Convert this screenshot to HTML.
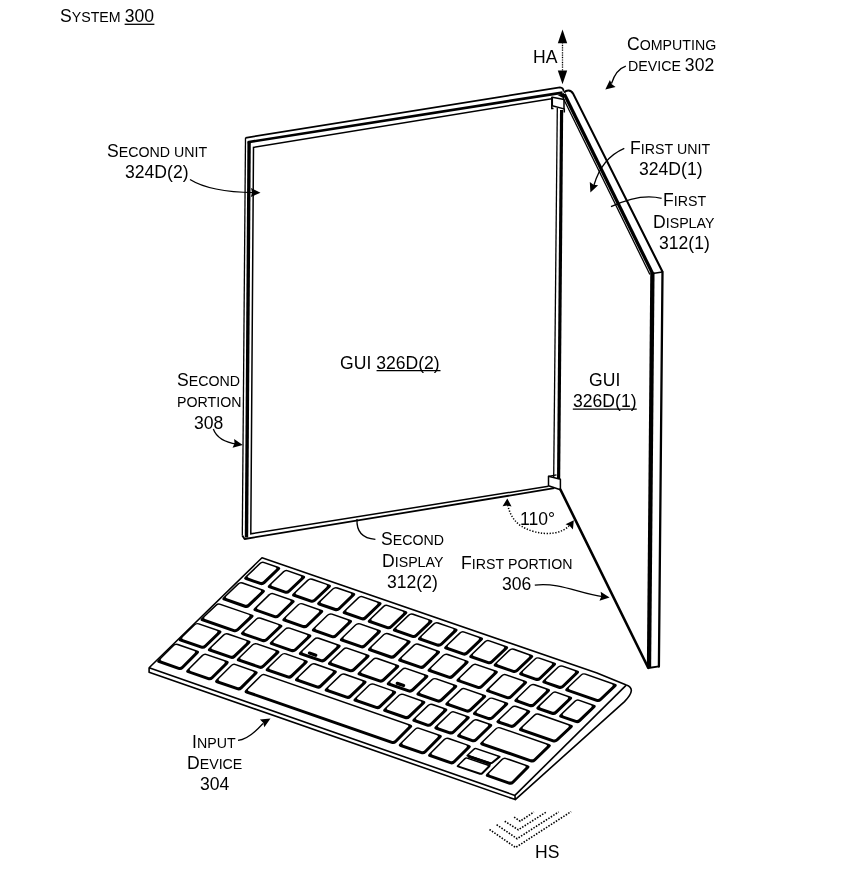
<!DOCTYPE html>
<html><head><meta charset="utf-8"><title>System 300</title>
<style>
html,body{margin:0;padding:0;background:#fff;}
#fig{position:relative;width:855px;height:883px;overflow:hidden;background:#fff;}
#fig svg{position:absolute;left:0;top:0;display:block;}
#labels{position:absolute;left:0;top:0;width:855px;height:883px;will-change:transform;}
.l{position:absolute;white-space:pre;color:#000;font-family:"Liberation Sans",sans-serif;font-size:17.33px;line-height:24px;height:24px;transform-origin:0 18.0px;transform:scale(1.015,1.1);}
.l span{display:inline-block;line-height:24px;}
.n{font-size:17.33px;}
.s,.w{font-size:14.0px;}
.w::first-letter{font-size:17.33px;}
</style></head><body>
<div id="fig">
<svg width="855" height="883" viewBox="0 0 855 883">
<rect width="855" height="883" fill="#fff"/>
<g id="device">
<path d="M242.3 535.4 L245.5 137.8" fill="none" stroke="#000" stroke-width="1.3"/>
<path d="M245.5 137.8 L559.9 87.4 Q563.4 87.6 563.7 91.5" fill="none" stroke="#000" stroke-width="1.7" stroke-linejoin="miter"/>
<path d="M246.5 537.5 L249.1 141.9" fill="none" stroke="#000" stroke-width="3.4"/>
<path d="M247.6 142.2 L562.5 92.6" fill="none" stroke="#000" stroke-width="2.6"/>
<path d="M548.5 486.2 L250.8 533.8 L253.5 147.4 L551.7 98.7" fill="none" stroke="#000" stroke-width="1.5"/>
<path d="M242.3 535.4 L244.6 539 L554.3 488.2" fill="none" stroke="#000" stroke-width="1.8" stroke-linejoin="round"/>
<path d="M557.3 108 L553.7 478" fill="none" stroke="#000" stroke-width="1.3"/>
<path d="M561.6 110 L558.6 479" fill="none" stroke="#000" stroke-width="3.2"/>
<path d="M552.3 97.3 L564 99.4 L564 108.9 L552.3 105.8 Z" fill="#fff" stroke="#000" stroke-width="1.5" stroke-linejoin="round"/>
<path d="M551.8 96.8 L551.8 108.5 L553.5 108.5 M564.3 108.5 L564.3 112.5" fill="none" stroke="#000" stroke-width="1.5"/>
<path d="M557.5 95 L564 98.5 L564 93 Z" fill="#000"/>
<path d="M548.5 476.3 L560.4 479.2 L560.4 489.8 L548.5 485.7 Z" fill="#fff" stroke="#000" stroke-width="1.5" stroke-linejoin="round"/>
<path d="M548.5 476.3 L556.5 474.8" fill="none" stroke="#000" stroke-width="1.3"/>
<path d="M564 92.6 Q566 90.4 568.5 90.5 Q571.5 90.7 573 93.4 L662.5 271.8" fill="none" stroke="#000" stroke-width="2.1" stroke-linejoin="round"/>
<path d="M662.5 271.8 L658.9 666.5" fill="none" stroke="#000" stroke-width="2.3" stroke-linecap="round"/>
<path d="M648.3 668 L659 666.4" fill="none" stroke="#000" stroke-width="1.8" stroke-linecap="round"/>
<path d="M564.3 94 L652.6 273.6" fill="none" stroke="#000" stroke-width="3.3"/>
<path d="M652.4 272.5 L649 667.5" fill="none" stroke="#000" stroke-width="4.3"/>
<path d="M562.9 97.5 L649.9 274.5" fill="none" stroke="#000" stroke-width="1.3"/>
<path d="M652.6 273.6 L662.4 272" fill="none" stroke="#000" stroke-width="1.5"/>
<path d="M560.4 489.5 L648.2 667.8" fill="none" stroke="#000" stroke-width="2.6" stroke-linecap="round"/>
</g>
<g id="keyboard">
<path d="M149.1 667.8 L262 557.7 L597 673 L626.3 684.9 Q631.6 686.6 631.3 690.8 Q631 695 624.5 701.6 L515.3 799.6 L514.9 795.4 L149.1 667.8 L149.1 672.2 L515.3 799.6" fill="none" stroke="#000" stroke-width="1.6" stroke-linejoin="round"/>
<path d="M626 685.4 L514.9 795.4" fill="none" stroke="#000" stroke-width="1.6"/>
<path d="M259.34 563.11Q261.65 560.9 264.67 561.95L278.6 566.78Q281.62 567.83 279.31 570.05L265.06 583.7Q262.75 585.91 259.73 584.86L245.8 580.02Q242.78 578.97 245.09 576.76Z" fill="#000"/><path d="M260.58 564Q262.02 562.61 263.91 563.27L275.33 567.24Q277.22 567.89 275.78 569.28L263.44 581.09Q262 582.47 260.11 581.82L248.69 577.85Q246.8 577.19 248.25 575.81Z" fill="#fff"/>
<path d="M282.94 571.31Q285.25 569.1 288.27 570.15L303.5 575.43Q306.52 576.48 304.21 578.7L289.96 592.35Q287.65 594.56 284.63 593.51L269.4 588.22Q266.38 587.17 268.69 584.96Z" fill="#000"/><path d="M284.18 572.2Q285.62 570.81 287.51 571.47L300.23 575.89Q302.12 576.54 300.68 577.93L288.34 589.74Q286.9 591.12 285.01 590.47L272.29 586.05Q270.4 585.39 271.85 584.01Z" fill="#fff"/>
<path d="M307.24 579.75Q309.55 577.54 312.57 578.59L329.3 584.4Q332.32 585.45 330.01 587.66L315.76 601.31Q313.45 603.52 310.43 602.47L293.7 596.66Q290.68 595.61 292.99 593.4Z" fill="#000"/><path d="M308.48 580.64Q309.92 579.26 311.81 579.91L326.03 584.85Q327.92 585.51 326.48 586.89L314.14 598.7Q312.7 600.09 310.81 599.43L296.59 594.49Q294.7 593.83 296.15 592.45Z" fill="#fff"/>
<path d="M332.34 588.47Q334.65 586.26 337.67 587.31L353.6 592.84Q356.62 593.89 354.31 596.1L340.06 609.75Q337.75 611.96 334.73 610.91L318.8 605.38Q315.78 604.33 318.09 602.12Z" fill="#000"/><path d="M333.58 589.36Q335.02 587.97 336.91 588.63L350.33 593.29Q352.22 593.95 350.78 595.33L338.44 607.14Q337 608.53 335.11 607.87L321.69 603.21Q319.8 602.55 321.25 601.17Z" fill="#fff"/>
<path d="M357.84 597.33Q360.15 595.12 363.17 596.17L379.9 601.98Q382.92 603.03 380.61 605.24L366.36 618.89Q364.05 621.1 361.03 620.05L344.3 614.24Q341.28 613.19 343.59 610.98Z" fill="#000"/><path d="M359.08 598.22Q360.52 596.83 362.41 597.49L376.63 602.43Q378.52 603.09 377.08 604.47L364.74 616.28Q363.3 617.66 361.41 617.01L347.19 612.07Q345.3 611.41 346.75 610.03Z" fill="#fff"/>
<path d="M382.94 606.05Q385.25 603.84 388.27 604.89L405.7 610.94Q408.72 611.99 406.41 614.2L392.16 627.85Q389.85 630.06 386.83 629.01L369.4 622.96Q366.38 621.91 368.69 619.7Z" fill="#000"/><path d="M384.18 606.94Q385.62 605.55 387.51 606.21L402.43 611.39Q404.32 612.05 402.88 613.43L390.54 625.24Q389.1 626.63 387.21 625.97L372.29 620.79Q370.4 620.13 371.85 618.75Z" fill="#fff"/>
<path d="M408.04 614.77Q410.35 612.55 413.37 613.6L430.8 619.66Q433.82 620.71 431.51 622.92L417.26 636.57Q414.95 638.78 411.93 637.73L394.5 631.68Q391.48 630.63 393.79 628.42Z" fill="#000"/><path d="M409.28 615.66Q410.72 614.27 412.61 614.93L427.53 620.11Q429.42 620.77 427.98 622.15L415.64 633.96Q414.2 635.35 412.31 634.69L397.39 629.51Q395.5 628.85 396.95 627.47Z" fill="#fff"/>
<path d="M433.14 623.49Q435.45 621.27 438.47 622.32L455.9 628.38Q458.92 629.43 456.61 631.64L442.36 645.29Q440.05 647.5 437.03 646.45L419.6 640.4Q416.58 639.35 418.89 637.14Z" fill="#000"/><path d="M434.38 624.38Q435.82 622.99 437.71 623.65L452.63 628.83Q454.52 629.49 453.08 630.87L440.74 642.68Q439.3 644.07 437.41 643.41L422.49 638.23Q420.6 637.57 422.05 636.19Z" fill="#fff"/>
<path d="M459.34 632.59Q461.65 630.38 464.67 631.43L481.4 637.24Q484.42 638.29 482.11 640.5L467.86 654.15Q465.55 656.36 462.53 655.31L445.8 649.5Q442.78 648.45 445.09 646.24Z" fill="#000"/><path d="M460.58 633.48Q462.02 632.09 463.91 632.75L478.13 637.69Q480.02 638.35 478.58 639.73L466.24 651.54Q464.8 652.93 462.91 652.27L448.69 647.33Q446.8 646.67 448.25 645.29Z" fill="#fff"/>
<path d="M484.44 641.31Q486.75 639.1 489.77 640.15L506.5 645.96Q509.52 647.01 507.21 649.22L492.96 662.87Q490.65 665.08 487.63 664.03L470.9 658.22Q467.88 657.17 470.19 654.96Z" fill="#000"/><path d="M485.68 642.2Q487.12 640.81 489.01 641.47L503.23 646.41Q505.12 647.07 503.68 648.45L491.34 660.26Q489.9 661.65 488.01 660.99L473.79 656.05Q471.9 655.39 473.35 654.01Z" fill="#fff"/>
<path d="M508.84 649.79Q511.15 647.57 514.17 648.62L531.6 654.68Q534.62 655.73 532.31 657.94L518.06 671.59Q515.75 673.8 512.73 672.75L495.3 666.7Q492.28 665.65 494.59 663.43Z" fill="#000"/><path d="M510.08 650.67Q511.52 649.29 513.41 649.95L528.33 655.13Q530.22 655.79 528.78 657.17L516.44 668.98Q515 670.37 513.11 669.71L498.19 664.53Q496.3 663.87 497.75 662.49Z" fill="#fff"/>
<path d="M534.34 658.64Q536.65 656.43 539.67 657.48L554.4 662.6Q557.42 663.65 555.11 665.86L540.86 679.51Q538.55 681.72 535.53 680.67L520.8 675.56Q517.78 674.51 520.09 672.29Z" fill="#000"/><path d="M535.58 659.53Q537.02 658.15 538.91 658.81L551.13 663.05Q553.02 663.71 551.58 665.09L539.24 676.9Q537.8 678.29 535.91 677.63L523.69 673.39Q521.8 672.73 523.25 671.35Z" fill="#fff"/>
<path d="M557.54 666.7Q559.85 664.49 562.87 665.54L577.4 670.59Q580.42 671.64 578.11 673.85L563.86 687.5Q561.55 689.71 558.53 688.66L544 683.62Q540.98 682.57 543.29 680.35Z" fill="#000"/><path d="M558.78 667.59Q560.22 666.21 562.11 666.87L574.13 671.04Q576.02 671.7 574.58 673.08L562.24 684.89Q560.8 686.28 558.91 685.62L546.89 681.44Q545 680.79 546.45 679.41Z" fill="#fff"/>
<path d="M580.44 674.66Q582.75 672.45 585.77 673.5L615.1 683.68Q618.12 684.73 615.81 686.95L601.56 700.6Q599.25 702.81 596.23 701.76L566.9 691.57Q563.88 690.52 566.19 688.31Z" fill="#000"/><path d="M581.68 675.55Q583.12 674.16 585.01 674.82L611.83 684.14Q613.72 684.79 612.28 686.18L599.94 697.99Q598.5 699.37 596.61 698.72L569.79 689.4Q567.9 688.74 569.35 687.36Z" fill="#fff"/>
<path d="M237.54 583.52Q239.85 581.29 242.87 582.35L263.29 589.46Q266.31 590.51 264.01 592.73L249.76 606.47Q247.45 608.69 244.43 607.64L224.01 600.53Q220.99 599.47 223.29 597.25Z" fill="#000"/><path d="M238.79 584.4Q240.23 583.01 242.11 583.67L260.04 589.92Q261.93 590.57 260.49 591.96L248.14 603.86Q246.7 605.25 244.81 604.59L226.89 598.35Q225 597.69 226.44 596.3Z" fill="#fff"/>
<path d="M268.64 594.35Q270.95 592.13 273.97 593.18L292.99 599.8Q296.01 600.86 293.71 603.08L279.46 616.81Q277.15 619.03 274.13 617.98L255.11 611.36Q252.09 610.3 254.39 608.08Z" fill="#000"/><path d="M269.89 595.23Q271.33 593.85 273.21 594.5L289.74 600.26Q291.63 600.92 290.19 602.31L277.84 614.21Q276.4 615.6 274.51 614.94L257.99 609.18Q256.1 608.52 257.54 607.14Z" fill="#fff"/>
<path d="M297.54 604.41Q299.85 602.19 302.87 603.25L321.59 609.77Q324.61 610.82 322.31 613.04L308.06 626.78Q305.75 629 302.73 627.94L284.01 621.42Q280.99 620.37 283.29 618.15Z" fill="#000"/><path d="M298.79 605.3Q300.23 603.91 302.11 604.57L318.34 610.22Q320.23 610.88 318.79 612.27L306.44 624.17Q305 625.56 303.11 624.9L286.89 619.25Q285 618.59 286.44 617.2Z" fill="#fff"/>
<path d="M327.04 614.69Q329.35 612.47 332.37 613.52L350.39 619.8Q353.41 620.85 351.11 623.07L336.86 636.81Q334.55 639.03 331.53 637.97L313.51 631.7Q310.49 630.65 312.79 628.42Z" fill="#000"/><path d="M328.29 615.58Q329.73 614.19 331.61 614.85L347.14 620.25Q349.03 620.91 347.59 622.3L335.24 634.2Q333.8 635.59 331.91 634.93L316.39 629.52Q314.5 628.87 315.94 627.48Z" fill="#fff"/>
<path d="M355.04 624.44Q357.35 622.22 360.37 623.27L379.29 629.86Q382.31 630.92 380.01 633.14L365.76 646.87Q363.45 649.09 360.43 648.04L341.51 641.45Q338.49 640.4 340.79 638.18Z" fill="#000"/><path d="M356.29 625.33Q357.73 623.94 359.61 624.6L376.04 630.32Q377.93 630.98 376.49 632.36L364.14 644.27Q362.7 645.65 360.81 645L344.39 639.28Q342.5 638.62 343.94 637.23Z" fill="#fff"/>
<path d="M383.14 634.23Q385.45 632.01 388.47 633.06L408.99 640.21Q412.01 641.26 409.71 643.48L395.46 657.22Q393.15 659.44 390.13 658.38L369.61 651.24Q366.59 650.19 368.89 647.96Z" fill="#000"/><path d="M384.39 635.12Q385.83 633.73 387.71 634.38L405.74 640.66Q407.63 641.32 406.19 642.71L393.84 654.61Q392.4 656 390.51 655.34L372.49 649.06Q370.6 648.4 372.04 647.02Z" fill="#fff"/>
<path d="M413.34 644.75Q415.65 642.53 418.67 643.58L438.39 650.45Q441.41 651.5 439.11 653.72L424.86 667.46Q422.55 669.68 419.53 668.62L399.81 661.76Q396.79 660.7 399.09 658.48Z" fill="#000"/><path d="M414.59 645.63Q416.03 644.25 417.91 644.9L435.14 650.9Q437.03 651.56 435.59 652.95L423.24 664.85Q421.8 666.24 419.91 665.58L402.69 659.58Q400.8 658.92 402.24 657.54Z" fill="#fff"/>
<path d="M442.74 654.99Q445.05 652.77 448.07 653.82L466.99 660.41Q470.01 661.46 467.71 663.68L453.46 677.42Q451.15 679.64 448.13 678.59L429.21 672Q426.19 670.94 428.49 668.72Z" fill="#000"/><path d="M443.99 655.87Q445.43 654.49 447.31 655.14L463.74 660.86Q465.63 661.52 464.19 662.91L451.84 674.81Q450.4 676.2 448.51 675.54L432.09 669.82Q430.2 669.16 431.64 667.78Z" fill="#fff"/>
<path d="M471.64 665.05Q473.95 662.83 476.97 663.88L496.19 670.58Q499.21 671.63 496.91 673.85L482.66 687.59Q480.35 689.81 477.33 688.76L458.11 682.06Q455.09 681.01 457.39 678.79Z" fill="#000"/><path d="M472.89 665.94Q474.33 664.55 476.21 665.21L492.94 671.03Q494.83 671.69 493.39 673.08L481.04 684.98Q479.6 686.37 477.71 685.71L460.99 679.89Q459.1 679.23 460.54 677.84Z" fill="#fff"/>
<path d="M501.24 675.36Q503.55 673.14 506.57 674.19L525.49 680.78Q528.51 681.84 526.21 684.06L511.96 697.79Q509.65 700.01 506.63 698.96L487.71 692.37Q484.69 691.32 486.99 689.1Z" fill="#000"/><path d="M502.49 676.25Q503.93 674.86 505.81 675.52L522.24 681.24Q524.13 681.9 522.69 683.29L510.34 695.19Q508.9 696.57 507.01 695.92L490.59 690.2Q488.7 689.54 490.14 688.15Z" fill="#fff"/>
<path d="M529.54 685.22Q531.85 683 534.87 684.05L548.39 688.76Q551.41 689.81 549.11 692.03L534.86 705.77Q532.55 707.99 529.53 706.94L516.01 702.23Q512.99 701.18 515.29 698.96Z" fill="#000"/><path d="M530.79 686.11Q532.23 684.72 534.11 685.38L545.14 689.22Q547.03 689.87 545.59 691.26L533.24 703.16Q531.8 704.55 529.91 703.89L518.89 700.05Q517 699.4 518.44 698.01Z" fill="#fff"/>
<path d="M551.54 692.88Q553.85 690.66 556.87 691.71L570.49 696.46Q573.51 697.51 571.21 699.73L556.96 713.47Q554.65 715.69 551.63 714.64L538.01 709.89Q534.99 708.84 537.29 706.62Z" fill="#000"/><path d="M552.79 693.77Q554.23 692.38 556.11 693.04L567.24 696.91Q569.13 697.57 567.69 698.96L555.34 710.86Q553.9 712.25 552.01 711.59L540.89 707.72Q539 707.06 540.44 705.67Z" fill="#fff"/>
<path d="M574.34 700.82Q576.65 698.6 579.67 699.65L594.09 704.68Q597.11 705.73 594.81 707.95L580.56 721.69Q578.25 723.91 575.23 722.86L560.81 717.83Q557.79 716.78 560.09 714.56Z" fill="#000"/><path d="M575.59 701.71Q577.03 700.32 578.91 700.98L590.84 705.13Q592.73 705.79 591.29 707.18L578.94 719.08Q577.5 720.47 575.61 719.81L563.69 715.66Q561.8 715 563.24 713.61Z" fill="#fff"/>
<path d="M215.43 604.8Q217.76 602.6 220.78 603.64L251.92 614.4Q254.94 615.44 252.61 617.64L238.67 630.82Q236.34 633.01 233.32 631.97L202.18 621.21Q199.16 620.17 201.49 617.97Z" fill="#000"/><path d="M216.67 605.69Q218.12 604.31 220.02 604.97L248.62 614.85Q250.51 615.5 249.06 616.87L237.06 628.21Q235.61 629.58 233.72 628.93L205.11 619.05Q203.22 618.4 204.67 617.02Z" fill="#fff"/>
<path d="M255.73 618.72Q258.06 616.52 261.08 617.56L280.82 624.38Q283.84 625.43 281.51 627.62L267.57 640.8Q265.24 642.99 262.22 641.95L242.48 635.13Q239.46 634.09 241.79 631.89Z" fill="#000"/><path d="M256.97 619.61Q258.42 618.23 260.32 618.89L277.52 624.83Q279.41 625.48 277.96 626.86L265.96 638.19Q264.51 639.57 262.62 638.91L245.41 632.97Q243.52 632.32 244.97 630.94Z" fill="#fff"/>
<path d="M284.63 628.7Q286.96 626.5 289.98 627.55L309.72 634.36Q312.74 635.41 310.41 637.61L296.47 650.78Q294.14 652.98 291.12 651.93L271.38 645.12Q268.36 644.07 270.69 641.87Z" fill="#000"/><path d="M285.87 629.59Q287.32 628.22 289.22 628.87L306.42 634.81Q308.31 635.46 306.86 636.84L294.86 648.17Q293.41 649.55 291.52 648.89L274.31 642.95Q272.42 642.3 273.87 640.93Z" fill="#fff"/>
<path d="M313.73 638.75Q316.06 636.55 319.08 637.6L339.02 644.48Q342.04 645.53 339.71 647.73L325.77 660.9Q323.44 663.1 320.42 662.05L300.48 655.17Q297.46 654.12 299.79 651.92Z" fill="#000"/><path d="M314.97 639.64Q316.42 638.27 318.32 638.92L335.72 644.93Q337.61 645.59 336.16 646.96L324.16 658.29Q322.71 659.67 320.82 659.02L303.41 653Q301.52 652.35 302.97 650.98Z" fill="#fff"/>
<line x1="309.4" y1="653.03" x2="315.8" y2="655.24" stroke="#000" stroke-width="3.2" stroke-linecap="round"/>
<path d="M342.83 648.8Q345.16 646.6 348.18 647.65L367.92 654.47Q370.94 655.51 368.61 657.71L354.67 670.88Q352.34 673.08 349.32 672.03L329.58 665.22Q326.56 664.17 328.89 661.98Z" fill="#000"/><path d="M344.07 649.69Q345.52 648.32 347.42 648.97L364.62 654.91Q366.51 655.57 365.06 656.94L353.06 668.28Q351.61 669.65 349.72 669L332.51 663.05Q330.62 662.4 332.07 661.03Z" fill="#fff"/>
<path d="M372.43 659.03Q374.76 656.83 377.78 657.87L397.62 664.72Q400.64 665.77 398.31 667.97L384.37 681.14Q382.04 683.34 379.02 682.29L359.18 675.44Q356.16 674.4 358.49 672.2Z" fill="#000"/><path d="M373.67 659.92Q375.12 658.54 377.02 659.2L394.32 665.17Q396.21 665.83 394.76 667.2L382.76 678.54Q381.31 679.91 379.42 679.26L362.11 673.28Q360.22 672.63 361.67 671.25Z" fill="#fff"/>
<path d="M401.63 669.11Q403.96 666.91 406.98 667.96L426.72 674.77Q429.74 675.82 427.41 678.02L413.47 691.19Q411.14 693.39 408.12 692.34L388.38 685.53Q385.36 684.48 387.69 682.28Z" fill="#000"/><path d="M402.87 670Q404.32 668.63 406.22 669.28L423.42 675.22Q425.31 675.88 423.86 677.25L411.86 688.59Q410.41 689.96 408.52 689.31L391.31 683.36Q389.42 682.71 390.87 681.34Z" fill="#fff"/>
<line x1="397.24" y1="683.37" x2="403.64" y2="685.58" stroke="#000" stroke-width="3.2" stroke-linecap="round"/>
<path d="M431.33 679.37Q433.66 677.17 436.68 678.22L455.62 684.76Q458.64 685.8 456.31 688L442.37 701.17Q440.04 703.37 437.02 702.33L418.08 695.79Q415.06 694.74 417.39 692.54Z" fill="#000"/><path d="M432.57 680.26Q434.02 678.89 435.92 679.54L452.32 685.21Q454.21 685.86 452.76 687.23L440.76 698.57Q439.31 699.94 437.42 699.29L421.01 693.62Q419.12 692.97 420.57 691.6Z" fill="#fff"/>
<path d="M460.23 689.35Q462.56 687.15 465.58 688.2L484.52 694.74Q487.54 695.78 485.21 697.98L471.27 711.16Q468.94 713.35 465.92 712.31L446.98 705.77Q443.96 704.72 446.29 702.53Z" fill="#000"/><path d="M461.47 690.24Q462.92 688.87 464.82 689.52L481.22 695.19Q483.11 695.84 481.66 697.21L469.66 708.55Q468.21 709.92 466.32 709.27L449.91 703.6Q448.02 702.95 449.47 701.58Z" fill="#fff"/>
<path d="M487.83 698.88Q490.16 696.69 493.18 697.73L506.62 702.37Q509.64 703.42 507.31 705.61L493.37 718.79Q491.04 720.99 488.02 719.94L474.58 715.3Q471.56 714.26 473.89 712.06Z" fill="#000"/><path d="M489.07 699.77Q490.52 698.4 492.42 699.05L503.32 702.82Q505.21 703.47 503.76 704.85L491.76 716.18Q490.31 717.56 488.42 716.9L477.51 713.14Q475.62 712.48 477.07 711.11Z" fill="#fff"/>
<path d="M511.23 706.97Q513.56 704.77 516.58 705.81L528.62 709.97Q531.64 711.02 529.31 713.21L515.37 726.39Q513.04 728.59 510.02 727.54L497.98 723.38Q494.96 722.34 497.29 720.14Z" fill="#000"/><path d="M512.47 707.86Q513.92 706.48 515.82 707.14L525.32 710.42Q527.21 711.07 525.76 712.45L513.76 723.78Q512.31 725.16 510.42 724.5L500.91 721.22Q499.02 720.57 500.47 719.19Z" fill="#fff"/>
<path d="M533.83 714.77Q536.16 712.58 539.18 713.62L571.22 724.69Q574.24 725.73 571.91 727.93L557.97 741.1Q555.64 743.3 552.62 742.25L520.58 731.19Q517.56 730.14 519.89 727.95Z" fill="#000"/><path d="M535.07 715.66Q536.52 714.29 538.42 714.94L567.92 725.13Q569.81 725.79 568.36 727.16L556.36 738.5Q554.91 739.87 553.02 739.22L523.51 729.03Q521.62 728.37 523.07 727Z" fill="#fff"/>
<path d="M193.84 624.42Q196.15 622.2 199.17 623.24L219.79 630.35Q222.82 631.4 220.51 633.62L206.26 647.36Q203.95 649.58 200.93 648.54L180.31 641.42Q177.28 640.38 179.59 638.16Z" fill="#000"/><path d="M195.09 625.3Q196.53 623.91 198.42 624.57L216.53 630.82Q218.42 631.47 216.98 632.86L204.64 644.76Q203.2 646.14 201.3 645.49L183.19 639.24Q181.3 638.59 182.74 637.2Z" fill="#fff"/>
<path d="M223.04 634.49Q225.35 632.27 228.37 633.31L248.89 640.39Q251.92 641.44 249.61 643.66L235.36 657.4Q233.05 659.62 230.03 658.58L209.51 651.5Q206.48 650.45 208.79 648.23Z" fill="#000"/><path d="M224.29 635.38Q225.73 633.99 227.62 634.64L245.63 640.86Q247.52 641.51 246.08 642.9L233.74 654.8Q232.3 656.18 230.4 655.53L212.39 649.32Q210.5 648.66 211.94 647.28Z" fill="#fff"/>
<path d="M251.94 644.46Q254.25 642.24 257.27 643.28L277.79 650.36Q280.82 651.41 278.51 653.63L264.26 667.37Q261.95 669.59 258.93 668.55L238.41 661.47Q235.38 660.42 237.69 658.2Z" fill="#000"/><path d="M253.19 645.35Q254.63 643.96 256.52 644.61L274.53 650.83Q276.42 651.48 274.98 652.87L262.64 664.77Q261.2 666.15 259.3 665.5L241.29 659.29Q239.4 658.63 240.84 657.25Z" fill="#fff"/>
<path d="M280.84 654.43Q283.15 652.21 286.17 653.26L306.09 660.13Q309.12 661.17 306.81 663.39L292.56 677.13Q290.25 679.35 287.23 678.31L267.31 671.44Q264.28 670.39 266.59 668.17Z" fill="#000"/><path d="M282.09 655.32Q283.53 653.93 285.42 654.58L302.83 660.59Q304.72 661.24 303.28 662.63L290.94 674.53Q289.5 675.92 287.6 675.27L270.19 669.26Q268.3 668.61 269.74 667.22Z" fill="#fff"/>
<path d="M310.14 664.54Q312.45 662.32 315.47 663.36L335.19 670.17Q338.22 671.21 335.91 673.43L321.66 687.17Q319.35 689.39 316.33 688.35L296.61 681.55Q293.58 680.5 295.89 678.28Z" fill="#000"/><path d="M311.39 665.43Q312.83 664.04 314.72 664.69L331.93 670.63Q333.82 671.28 332.38 672.67L320.04 684.57Q318.6 685.96 316.7 685.31L299.49 679.37Q297.6 678.71 299.04 677.33Z" fill="#fff"/>
<path d="M339.84 674.79Q342.15 672.57 345.17 673.61L364.89 680.41Q367.92 681.46 365.61 683.68L351.36 697.42Q349.05 699.64 346.03 698.6L326.31 691.79Q323.28 690.75 325.59 688.53Z" fill="#000"/><path d="M341.09 675.67Q342.53 674.28 344.42 674.94L361.63 680.88Q363.52 681.53 362.08 682.92L349.74 694.82Q348.3 696.2 346.4 695.55L329.19 689.61Q327.3 688.96 328.74 687.57Z" fill="#fff"/>
<path d="M368.64 684.72Q370.95 682.5 373.97 683.55L394.49 690.63Q397.52 691.67 395.21 693.89L380.96 707.63Q378.65 709.85 375.63 708.81L355.11 701.73Q352.08 700.68 354.39 698.46Z" fill="#000"/><path d="M369.89 685.61Q371.33 684.22 373.22 684.87L391.23 691.09Q393.12 691.74 391.68 693.13L379.34 705.03Q377.9 706.42 376 705.76L357.99 699.55Q356.1 698.9 357.54 697.51Z" fill="#fff"/>
<path d="M398.34 694.97Q400.65 692.75 403.67 693.79L423.69 700.7Q426.72 701.74 424.41 703.96L410.16 717.7Q407.85 719.93 404.83 718.88L384.81 711.97Q381.78 710.93 384.09 708.71Z" fill="#000"/><path d="M399.59 695.85Q401.03 694.47 402.92 695.12L420.43 701.16Q422.32 701.81 420.88 703.2L408.54 715.1Q407.1 716.49 405.2 715.84L387.69 709.79Q385.8 709.14 387.24 707.75Z" fill="#fff"/>
<path d="M427.54 705.04Q429.85 702.82 432.87 703.87L445.69 708.29Q448.72 709.33 446.41 711.55L432.16 725.29Q429.85 727.52 426.83 726.47L414.01 722.05Q410.98 721 413.29 718.78Z" fill="#000"/><path d="M428.79 705.93Q430.23 704.54 432.12 705.19L442.43 708.75Q444.32 709.4 442.88 710.79L430.54 722.69Q429.1 724.08 427.2 723.43L416.89 719.87Q415 719.22 416.44 717.83Z" fill="#fff"/>
<path d="M449.54 712.63Q451.85 710.41 454.87 711.46L468.09 716.02Q471.12 717.06 468.81 719.28L454.56 733.02Q452.25 735.24 449.23 734.2L436.01 729.64Q432.98 728.59 435.29 726.37Z" fill="#000"/><path d="M450.79 713.52Q452.23 712.13 454.12 712.78L464.83 716.48Q466.72 717.13 465.28 718.52L452.94 730.42Q451.5 731.81 449.6 731.16L438.89 727.46Q437 726.81 438.44 725.42Z" fill="#fff"/>
<path d="M472.34 720.5Q474.65 718.28 477.67 719.32L490.59 723.78Q493.62 724.82 491.31 727.05L477.06 740.78Q474.75 743.01 471.73 741.96L458.81 737.5Q455.78 736.46 458.09 734.24Z" fill="#000"/><path d="M473.59 721.38Q475.03 720 476.92 720.65L487.33 724.24Q489.22 724.89 487.78 726.28L475.44 738.18Q474 739.57 472.1 738.92L461.69 735.32Q459.8 734.67 461.24 733.28Z" fill="#fff"/>
<path d="M495.24 728.4Q497.55 726.18 500.57 727.22L549.19 744Q552.22 745.04 549.91 747.26L535.66 761Q533.35 763.22 530.33 762.18L481.71 745.4Q478.68 744.36 480.99 742.14Z" fill="#000"/><path d="M496.49 729.29Q497.93 727.9 499.82 728.55L545.93 744.46Q547.82 745.11 546.38 746.5L534.04 758.4Q532.6 759.79 530.7 759.14L484.59 743.23Q482.7 742.57 484.14 741.19Z" fill="#fff"/>
<path d="M172.77 645.05Q175.03 642.79 178.05 643.84L197.35 650.54Q200.37 651.59 198.11 653.85L183.43 668.52Q181.17 670.79 178.15 669.74L158.85 663.04Q155.83 661.99 158.09 659.73Z" fill="#000"/><path d="M174.01 645.93Q175.43 644.52 177.32 645.17L194.15 651.01Q196.04 651.67 194.63 653.08L181.79 665.92Q180.38 667.33 178.49 666.68L161.65 660.84Q159.76 660.18 161.18 658.76Z" fill="#fff"/>
<path d="M201.77 655.12Q204.03 652.86 207.05 653.9L227.05 660.84Q230.07 661.89 227.81 664.16L213.13 678.83Q210.87 681.09 207.85 680.04L187.85 673.11Q184.83 672.06 187.09 669.79Z" fill="#000"/><path d="M203.01 656Q204.43 654.58 206.32 655.24L223.85 661.32Q225.74 661.98 224.33 663.39L211.49 676.23Q210.08 677.64 208.19 676.99L190.65 670.9Q188.76 670.25 190.18 668.83Z" fill="#fff"/>
<path d="M230.67 665.15Q232.93 662.89 235.95 663.94L256.05 670.91Q259.07 671.96 256.81 674.22L242.13 688.9Q239.87 691.16 236.85 690.11L216.75 683.14Q213.73 682.09 215.99 679.82Z" fill="#000"/><path d="M231.91 666.03Q233.33 664.61 235.22 665.27L252.85 671.39Q254.74 672.05 253.33 673.46L240.49 686.3Q239.08 687.71 237.19 687.05L219.55 680.93Q217.66 680.28 219.08 678.86Z" fill="#fff"/>
<path d="M260.17 675.39Q262.43 673.13 265.45 674.18L410.55 724.54Q413.57 725.59 411.31 727.85L396.63 742.52Q394.37 744.79 391.35 743.74L246.25 693.38Q243.23 692.33 245.49 690.06Z" fill="#000"/><path d="M261.41 676.27Q262.83 674.85 264.72 675.51L407.35 725.02Q409.24 725.67 407.83 727.09L394.99 739.92Q393.58 741.34 391.69 740.68L249.05 691.17Q247.16 690.52 248.58 689.1Z" fill="#fff"/>
<path d="M414.37 728.91Q416.63 726.65 419.65 727.7L440.15 734.81Q443.17 735.86 440.91 738.12L426.23 752.8Q423.97 755.06 420.95 754.01L400.45 746.9Q397.43 745.85 399.69 743.59Z" fill="#000"/><path d="M415.61 729.79Q417.03 728.37 418.92 729.03L436.95 735.29Q438.84 735.95 437.43 737.36L424.59 750.2Q423.18 751.61 421.29 750.95L403.25 744.69Q401.36 744.04 402.78 742.62Z" fill="#fff"/>
<path d="M443.67 739.08Q445.93 736.82 448.95 737.87L469.15 744.88Q472.17 745.93 469.91 748.19L455.23 762.86Q452.97 765.13 449.95 764.08L429.75 757.07Q426.73 756.02 428.99 753.76Z" fill="#000"/><path d="M444.91 739.96Q446.33 738.54 448.22 739.2L465.95 745.36Q467.84 746.01 466.43 747.43L453.59 760.26Q452.18 761.68 450.29 761.02L432.55 754.86Q430.66 754.21 432.08 752.79Z" fill="#fff"/>
<path d="M501.37 759.11Q503.63 756.85 506.65 757.9L527.85 765.25Q530.87 766.3 528.61 768.56L513.93 783.24Q511.67 785.5 508.65 784.45L487.45 777.1Q484.43 776.05 486.69 773.78Z" fill="#000"/><path d="M502.61 759.99Q504.03 758.57 505.92 759.23L524.65 765.73Q526.54 766.39 525.13 767.8L512.29 780.64Q510.88 782.05 508.99 781.4L490.25 774.89Q488.36 774.24 489.78 772.82Z" fill="#fff"/>
<path d="M473.3 748.78Q474.75 747.4 476.65 748.05L499.69 755.86Q501.59 756.5 500.02 757.74L492.84 763.43Q491.28 764.67 489.38 764.04L467.43 756.72Q465.53 756.09 466.99 754.72Z" fill="#000"/><path d="M474.54 749.66Q475.12 749.11 475.88 749.37L497.17 756.59Q497.93 756.84 497.3 757.34L491.51 761.93Q490.88 762.43 490.12 762.18L469.56 755.32Q468.8 755.07 469.39 754.52Z" fill="#fff"/>
<path d="M464.21 758.31Q465.62 756.9 467.52 757.53L489.49 764.86Q491.39 765.49 489.98 766.9L482.99 773.89Q481.58 775.3 479.68 774.67L457.71 767.34Q455.81 766.71 457.22 765.3Z" fill="#000"/><path d="M465.46 759.18Q466.03 758.61 466.79 758.87L487.33 765.71Q488.08 765.97 487.52 766.53L481.6 772.45Q481.04 773.01 480.28 772.76L459.74 765.91Q458.98 765.66 459.55 765.1Z" fill="#fff"/>
<line x1="468.5" y1="756.3" x2="491" y2="764" stroke="#000" stroke-width="3"/>
</g>
<g id="leaders">
<path d="M190 179.5 Q210 192 254 192.6" fill="none" stroke="#000" stroke-width="1.3"/>
<path d="M260.5 192.7 L250.81 197.01 L252.1 192.53 L250.99 188.01 Z" fill="#000"/>
<path d="M625.8 66.2 Q616 69.5 611.5 83.5" fill="none" stroke="#000" stroke-width="1.3"/>
<path d="M605.3 89.6 L609.92 80.06 L611.82 84.31 L615.59 87.04 Z" fill="#000"/>
<path d="M624.3 148.4 Q602 158 594 185" fill="none" stroke="#000" stroke-width="1.3"/>
<path d="M590.4 192.6 L589.79 182.02 L593.52 184.8 L598.14 185.36 Z" fill="#000"/>
<path d="M661.6 198.3 Q640 193 611 206.7" fill="none" stroke="#000" stroke-width="1.3"/>
<path d="M213.3 429 Q218 441.5 237 444.1" fill="none" stroke="#000" stroke-width="1.3"/>
<path d="M242.8 445.1 L232.55 447.83 L234.53 443.61 L234.15 438.97 Z" fill="#000"/>
<path d="M357 519 Q356 538 375.4 539.3" fill="none" stroke="#000" stroke-width="1.3"/>
<path d="M534.8 585.1 C560 582 580 594 603 596.7" fill="none" stroke="#000" stroke-width="1.3"/>
<path d="M609.6 597.5 L599.5 600.72 L601.27 596.42 L600.66 591.8 Z" fill="#000"/>
<path d="M238 740.3 C246 739.6 253.5 734 263 723.5" fill="none" stroke="#000" stroke-width="1.3"/>
<path d="M270.5 718.6 L264.33 727.23 L263.18 722.71 L259.93 719.38 Z" fill="#000"/>
<path d="M507.8 505 C510 516 516 526 532 531 C548 536 562 533 569 526" fill="none" stroke="#000" stroke-width="1.5" stroke-dasharray="1.3 1.6"/>
<path d="M507.3 498.4 L511.56 506.53 L507.09 505.4 L502.56 506.26 Z" fill="#000"/>
<path d="M573.8 520.3 L572.93 529.44 L569.8 526.05 L565.54 524.3 Z" fill="#000"/>
<path d="M562.5 40 L562.5 72" fill="none" stroke="#000" stroke-width="1.3" stroke-dasharray="0.9 0.8"/>
<path d="M562.5 29.6 L567.2 43.2 L562.5 43.2 L557.8 43.2 Z" fill="#000"/>
<path d="M562.5 84.2 L557.8 70.6 L562.5 70.6 L567.2 70.6 Z" fill="#000"/>
<path d="M514.1 817.1 L520.2 821.2 L533.9 812" fill="none" stroke="#000" stroke-width="1.6" stroke-dasharray="1.5 1.45"/>
<path d="M504.7 821.2 L518.3 829.8 L546.3 812" fill="none" stroke="#000" stroke-width="1.6" stroke-dasharray="1.5 1.45"/>
<path d="M496.6 824.7 L517.1 838.7 L558.6 812" fill="none" stroke="#000" stroke-width="1.6" stroke-dasharray="1.5 1.45"/>
<path d="M489.5 829.5 L515.6 847.5 L571.1 811.6" fill="none" stroke="#000" stroke-width="1.6" stroke-dasharray="1.5 1.45"/>
</g>
<g id="underlines">
<line x1="124.63" y1="24.3" x2="154.38" y2="24.3" stroke="#000" stroke-width="1.3"/>
<line x1="376.56" y1="370.6" x2="440.51" y2="370.6" stroke="#000" stroke-width="1.3"/>
<line x1="572.8" y1="409.2" x2="636.75" y2="409.2" stroke="#000" stroke-width="1.3"/>
</g>
</svg>
<div id="labels">
<div class="l" style="left:59.7px;top:4.4px"><span class="w">SYSTEM</span><span class="s"> </span><span class="n">300</span></div>
<div class="l" style="left:107px;top:139.4px"><span class="w">SECOND</span><span class="s"> </span><span class="s">UNIT</span></div>
<div class="l" style="left:124.9px;top:160px"><span class="n">324D(2)</span></div>
<div class="l" style="left:533.3px;top:44.5px"><span class="n">HA</span></div>
<div class="l" style="left:626.7px;top:32.3px"><span class="w">COMPUTING</span></div>
<div class="l" style="left:627.7px;top:52.9px"><span class="s">DEVICE</span><span class="s"> </span><span class="n">302</span></div>
<div class="l" style="left:630.1px;top:135.7px"><span class="w">FIRST</span><span class="s"> </span><span class="s">UNIT</span></div>
<div class="l" style="left:638.6px;top:157.2px"><span class="n">324D(1)</span></div>
<div class="l" style="left:662.8px;top:187.9px"><span class="w">FIRST</span></div>
<div class="l" style="left:653.3px;top:209.9px"><span class="w">DISPLAY</span></div>
<div class="l" style="left:658.6px;top:230.9px"><span class="n">312(1)</span></div>
<div class="l" style="left:340.1px;top:350.7px"><span class="n">GUI</span><span class="n"> </span><span class="n">326D(2)</span></div>
<div class="l" style="left:588.6px;top:368.2px"><span class="n">GUI</span></div>
<div class="l" style="left:572.5px;top:389.3px"><span class="n">326D(1)</span></div>
<div class="l" style="left:177.3px;top:368px"><span class="w">SECOND</span></div>
<div class="l" style="left:177.1px;top:388.6px"><span class="s">PORTION</span></div>
<div class="l" style="left:193.9px;top:410.8px"><span class="n">308</span></div>
<div class="l" style="left:519.8px;top:506.6px"><span class="n">110°</span></div>
<div class="l" style="left:381px;top:527.2px"><span class="w">SECOND</span></div>
<div class="l" style="left:381.7px;top:548.5px"><span class="w">DISPLAY</span></div>
<div class="l" style="left:386.6px;top:569.8px"><span class="n">312(2)</span></div>
<div class="l" style="left:460.9px;top:550.8px"><span class="w">FIRST</span><span class="s"> </span><span class="s">PORTION</span></div>
<div class="l" style="left:501.8px;top:571.6px"><span class="n">306</span></div>
<div class="l" style="left:192.4px;top:729.5px"><span class="w">INPUT</span></div>
<div class="l" style="left:187.1px;top:750.6px"><span class="w">DEVICE</span></div>
<div class="l" style="left:199.5px;top:771.6px"><span class="n">304</span></div>
<div class="l" style="left:535.2px;top:839.7px"><span class="n">HS</span></div>
</div>
</div>
</body></html>
